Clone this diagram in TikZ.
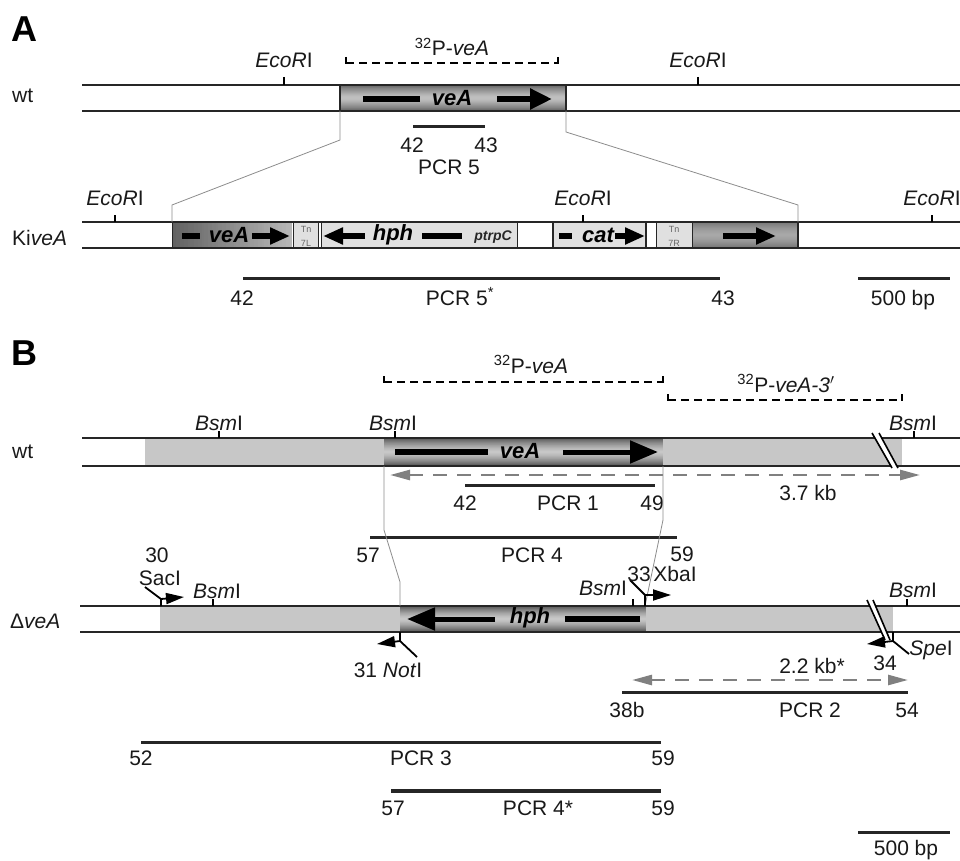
\documentclass[tikz,border=0pt]{standalone}
\usepackage{fontspec}
\setmainfont{Liberation Sans}
\usetikzlibrary{arrows.meta}
% vertical gradient box: x1,y1,x2,y2,edge pct,middle pct
\newcommand\vgradbox[6]{%
  \pgfmathtruncatemacro\vgN{#4-#2}%
  \foreach \i in {1,...,\vgN}{%
    \pgfmathtruncatemacro\vgc{#6+(#5-#6)*(abs(\i-0.5-\vgN/2)/(\vgN/2))^1.4}%
    \fill[black!\vgc] (#1,#2+\i-1) rectangle (#3,{min(#2+\i+0.4,#4)});%
  }}
% horizontal gradient box: x1,y1,x2,y2,left pct,right pct
\newcommand\hgradbox[6]{%
  \pgfmathtruncatemacro\hgN{(#3-#1)/2}%
  \foreach \i in {1,...,\hgN}{%
    \pgfmathtruncatemacro\hgc{#5+(#6-#5)*(\i-1)/\hgN}%
    \fill[black!\hgc] (#1+2*\i-2,#2) rectangle ({min(#1+2*\i+0.4,#3)},#4);%
  }}
\begin{document}
\begin{tikzpicture}[x=1pt,y=-1pt,
 dna/.style={line width=2.4pt, black!85},
 edge/.style={line width=1pt, black!85},
 tedge/.style={line width=2.2pt, black!85},
 pcr/.style={line width=3pt, black!85},
 conn/.style={black!45, line width=0.8pt},
 probe/.style={line width=2.6pt, dash pattern=on 8pt off 5pt},
 ptick/.style={line width=2.6pt},
 lbl/.style={font=\fontsize{21}{25}\selectfont, inner sep=0pt, anchor=base, text=black!90},
 gene/.style={font=\fontsize{22}{26}\selectfont\bfseries\itshape, inner sep=0pt},
 tiny/.style={font=\fontsize{9}{10}\selectfont, inner sep=0pt, text=black!60},
 fatbar/.style={line width=5.5pt},
 fat/.style={line width=5.5pt, -{Triangle[length=22pt,width=20pt]}},
 fatk/.style={line width=5.5pt, -{Triangle[length=20pt,width=16pt]}},
 fatb/.style={line width=5pt, -{Triangle[length=28pt,width=22pt]}},
 kb/.style={black!50, line width=2.6pt, dash pattern=on 14pt off 10pt, {Triangle[length=20pt,width=10pt]}-{Triangle[length=20pt,width=10pt]}},
 primer/.style={line width=1.8pt},
 ptip/.style={line width=1.8pt, -{Triangle[length=18pt,width=11pt]}},
 site/.style={line width=2.2pt},
 lightbox/.style={fill=black!12},
 graybg/.style={fill=black!22},
]
\useasboundingbox (0,0) rectangle (960,861);

% ================= Panel A =================
\node[font=\fontsize{36}{40}\selectfont\bfseries, anchor=base west, inner sep=0pt] (labA) at (11,42) {A};
\node[lbl, anchor=base west] (wtA) at (12,103) {wt};

% wt veA box
\vgradbox{340}{85}{566}{111}{62}{25}
\coordinate (aL) at (340,111); \coordinate (aR) at (566,111);
\draw[dna] (82,85) -- (960,85) (82,111) -- (960,111);
\draw[tedge] (340,85) -- (340,111) (566,85) -- (566,111);
\draw[fatbar] (363,99) -- (420,99);
\node[gene] (veAa) at (452,98) {veA};
\draw[fat] (497,99) -- (552,99);

% EcoRI sites wt
\draw[site] (284,77) -- (284,85);
\node[lbl] (ecoA1) at (284,68) {\itshape EcoR\upshape I};
\draw[site] (698,77) -- (698,85);
\node[lbl] (ecoA2) at (698,68) {\itshape EcoR\upshape I};

% probe
\draw[probe] (346,63) -- (558,63);
\draw[ptick] (346,57) -- (346,64) (558,57) -- (558,64);
\node[lbl] (probeA) at (452,56) {\textsuperscript{32}P-\textit{veA}};

% PCR 5
\draw[pcr] (413,127) -- (485,127);
\node[lbl] (p42a) at (412,153) {42};
\node[lbl] (p43a) at (486,153) {43};
\node[lbl] (pcr5) at (449,175) {PCR 5};

% KiveA row
\node[lbl, anchor=base west] (kiveA) at (12,245) {Ki\textit{veA}};
\hgradbox{172}{222}{293}{248}{62}{28}
\fill[lightbox] (293,222) rectangle (318,248);
\fill[lightbox] (321,222) rectangle (517,248);
\fill[lightbox] (553,222) rectangle (646,248);
\fill[lightbox] (656,222) rectangle (692,248);
\vgradbox{692}{222}{798}{248}{55}{34}
\coordinate (kL) at (172,222); \coordinate (kR) at (798,222);
\draw[dna] (82,222) -- (960,222) (82,248) -- (960,248);
\draw[edge] (172,222) -- (172,248) (293,222) -- (293,248) (318,222) -- (318,248)
  (321,222) -- (321,248) (517,222) -- (517,248) (656,222) -- (656,248) (692,222) -- (692,248);
\draw[tedge] (553,222) -- (553,248) (646,222) -- (646,248) (798,222) -- (798,248);

\draw[fatbar] (182,236) -- (200,236);
\node[gene] (veAk) at (229,235) {veA};
\draw[fatk] (252,236) -- (290,236);
\node[tiny] (tn7l) at (306,229) {Tn};
\node[tiny] (tn7lb) at (306,243) {7L};
\draw[fatk] (365,236) -- (323,236);
\node[gene] (hphk) at (393,235) {hph};
\draw[fatbar] (422,236) -- (462,236);
\node[font=\fontsize{14}{16}\selectfont\bfseries\itshape, inner sep=0pt, text=black!85] (ptrpc) at (493,237) {ptrpC};
\draw[fatbar] (559,236) -- (572,236);
\node[gene] (catk) at (598,235) {cat};
\draw[fatk] (615,236) -- (645,236);
\node[tiny] (tn7r) at (674,229) {Tn};
\node[tiny] (tn7rb) at (674,243) {7R};
\draw[fatk] (723,236) -- (776,236);

% EcoRI sites KiveA
\draw[site] (115,215) -- (115,222);
\node[lbl] (ecoK1) at (115,205) {\itshape EcoR\upshape I};
\draw[site] (583,215) -- (583,222);
\node[lbl] (ecoK2) at (583,205) {\itshape EcoR\upshape I};
\draw[site] (932,215) -- (932,222);
\node[lbl] (ecoK3) at (932,205) {\itshape EcoR\upshape I};

% connectors A
\draw[conn] (aL) -- (340,140) -- (172,205) -- (kL);
\draw[conn] (aR) -- (566,132) -- (798,205) -- (kR);

% PCR 5*
\draw[pcr] (243,278) -- (720,278);
\node[lbl] (p42b) at (242,305) {42};
\node[lbl] (pcr5s) at (460,305) {PCR 5\textsuperscript{*}};
\node[lbl] (p43b) at (723,305) {43};
\draw[pcr] (858,278) -- (950,278);
\node[lbl] (bpA) at (903,305) {500 bp};

% ================= Panel B =================
\node[font=\fontsize{36}{40}\selectfont\bfseries, anchor=base west, inner sep=0pt] (labB) at (11,365) {B};

% probes
\draw[probe] (384,382) -- (663,382);
\draw[ptick] (384,376) -- (384,383) (663,376) -- (663,383);
\node[lbl] (probeB1) at (531,373) {\textsuperscript{32}P-\textit{veA}};
\draw[probe] (668,400) -- (902,400);
\draw[ptick] (668,394) -- (668,401) (902,394) -- (902,401);
\node[lbl] (probeB2) at (786,392) {\textsuperscript{32}P-\textit{veA-3$'$}};

% wt B
\node[lbl, anchor=base west] (wtB) at (12,458) {wt};
\fill[graybg] (145,438) rectangle (384,466);
\fill[graybg] (663,438) rectangle (902,466);
\vgradbox{384}{438}{663}{466}{68}{22}
\coordinate (bL) at (384,466); \coordinate (bR) at (663,466);
\draw[dna] (82,438) -- (960,438) (82,466) -- (960,466);
\draw[fatbar] (395,452) -- (488,452);
\node[gene] (veAb) at (520,451) {veA};
\draw[fatb] (563,452) -- (658,452);
% break
\fill[white] (872,433) -- (879,433) -- (898,468) -- (892,468) -- cycle;
\draw[line width=1.6pt] (872,433) -- (892,468) (879,433) -- (898,468);
% BsmI
\draw[site] (219,431) -- (219,438);
\node[lbl] (bsm1) at (219,430) {\itshape Bsm\upshape I};
\draw[site] (395,431) -- (395,438);
\node[lbl] (bsm2) at (393,430) {\itshape Bsm\upshape I};
\draw[site] (914,431) -- (914,438);
\node[lbl] (bsm3) at (913,430) {\itshape Bsm\upshape I};

\draw[kb] (390,475) -- (920,475);
\node[lbl] (kb37) at (808,500) {3.7 kb};
\draw[pcr] (465,485) -- (655,485);
\node[lbl] (p42c) at (465,510) {42};
\node[lbl] (pcr1) at (568,510) {PCR 1};
\node[lbl] (p49) at (652,510) {49};

% PCR 4
\draw[pcr] (370,537) -- (677,537);
\node[lbl] (p57a) at (368,562) {57};
\node[lbl] (pcr4) at (532,562) {PCR 4};
\node[lbl] (p59a) at (682,561) {59};

% deltaveA row
\node[lbl, anchor=base west] (dveA) at (10,628) {Δ\textit{veA}};
\fill[graybg] (160,606) rectangle (400,632);
\fill[graybg] (646,606) rectangle (893,632);
\vgradbox{400}{606}{646}{632}{68}{22}
\coordinate (dL) at (400,606); \coordinate (dR) at (645,606);
\draw[dna] (80,606) -- (960,606) (80,632) -- (960,632);
\draw[fatb] (495,619) -- (407,619);
\node[gene] (hphb) at (530,618) {hph};
\draw[fatbar] (565,619) -- (640,619);
% break
\fill[white] (867,600) -- (873,600) -- (890,640) -- (885,640) -- cycle;
\draw[line width=1.6pt] (867,600) -- (885,640) (873,600) -- (890,640);

% connectors B
\draw[conn] (bL) -- (384,530) -- (400,582) -- (dL);
\draw[conn] (bR) -- (663,520) -- (dR);

% BsmI on deltaveA
\draw[site] (213,599) -- (213,606);
\node[lbl] (bsm4) at (217,598) {\itshape Bsm\upshape I};
\draw[site] (633,599) -- (633,606);
\node[lbl] (bsm5) at (603,595) {\itshape Bsm\upshape I};
\draw[site] (907,599) -- (907,606);
\node[lbl] (bsm6) at (913,597) {\itshape Bsm\upshape I};

% primers
\draw[primer] (145,587) -- (161,599) -- (161,606);
\draw[ptip] (161,599) -- (184,597);
\node[lbl] (n30) at (157,562) {30};
\node[lbl] (saci) at (160,585) {SacI};

\draw[primer] (400,632) -- (400,641) -- (417,657);
\draw[ptip] (400,641) -- (377,644);
\node[lbl] (n31) at (388,677) {31 \textit{Not}I};

\draw[primer] (630,580) -- (645,595) -- (645,606);
\draw[ptip] (645,595) -- (671,595);
\node[lbl] (n33) at (639,581) {33};
\node[lbl] (xbai) at (675,581) {XbaI};

\draw[primer] (893,632) -- (893,641) -- (909,654);
\draw[ptip] (893,641) -- (867,644);
\node[lbl] (spei) at (931,655) {\textit{Spe}I};
\node[lbl] (n34) at (885,670) {34};

\draw[kb] (632,680) -- (908,680);
\node[lbl] (kb22) at (812,673) {2.2 kb*};
\draw[pcr] (622,692) -- (908,692);
\node[lbl] (p38b) at (627,717) {38b};
\node[lbl] (pcr2) at (810,717) {PCR 2};
\node[lbl] (p54) at (907,717) {54};

% PCR 3
\draw[pcr] (141,742) -- (661,742);
\node[lbl] (p52) at (141,765) {52};
\node[lbl] (pcr3) at (421,765) {PCR 3};
\node[lbl] (p59b) at (663,765) {59};

% PCR 4*
\draw[line width=3.6pt, black!85] (391,791) -- (661,791);
\node[lbl] (p57b) at (393,815) {57};
\node[lbl] (pcr4s) at (538,815) {PCR 4*};
\node[lbl] (p59c) at (663,815) {59};

% scale bar
\draw[pcr] (858,832) -- (950,832);
\node[lbl] (bpB) at (906,855) {500 bp};
\end{tikzpicture}
\end{document}
